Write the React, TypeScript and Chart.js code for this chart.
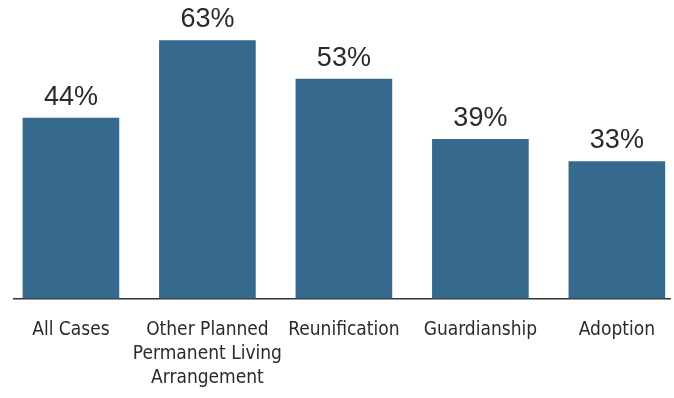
import React, { useEffect, useRef } from "react";
import { Chart, registerables } from "chart.js";

Chart.register(...registerables);

const categoryLines: string[][] = [
  ["All Cases"],
  ["Other Planned", "Permanent Living", "Arrangement"],
  ["Reunification"],
  ["Guardianship"],
  ["Adoption"],
];
const values: number[] = [44, 62.9, 53.5, 38.8, 33.4];
const valueLabels: string[] = ["44%", "63%", "53%", "39%", "33%"];

const BAR_COLOR = "#356a8e";
const TEXT_COLOR = "#2a2a2a";

const valueLabelPlugin = {
  id: "valueLabels",
  afterDatasetsDraw(chart: any) {
    const ctx = chart.ctx;
    const meta = chart.getDatasetMeta(0);
    ctx.save();
    ctx.font = '27px "Liberation Sans", Arial, sans-serif';
    ctx.fillStyle = TEXT_COLOR;
    ctx.textAlign = "center";
    ctx.textBaseline = "alphabetic";
    meta.data.forEach((bar: any, i: number) => {
      ctx.fillText(valueLabels[i], bar.x, bar.y - 13.5);
    });
    ctx.restore();
  },
};

export default function App() {
  const ref = useRef<HTMLCanvasElement | null>(null);
  useEffect(() => {
    if (!ref.current) return;
    const chart = new Chart(ref.current, {
      type: "bar",
      data: {
        datasets: [
          {
            data: values.map((v, i) => ({ x: i, y: v })),
            backgroundColor: BAR_COLOR,
            barThickness: 96,
          },
        ],
      },
      options: {
        animation: false,
        responsive: true,
        maintainAspectRatio: false,
        layout: { padding: { top: 11.5, left: 14, right: 0, bottom: 0 } },
        plugins: { legend: { display: false }, tooltip: { enabled: false } },
        scales: {
          x: {
            type: "linear",
            offset: false,
            min: -0.417,
            max: 4.393,
            grid: { display: false, drawTicks: false },
            border: { display: true, color: "#333333", width: 1.5 },
            afterBuildTicks: (scale: any) => {
              scale.ticks = categoryLines.map((_, i) => ({ value: i }));
            },
            afterFit: (scale: any) => {
              scale.height = 99.5;
            },
            ticks: {
              autoSkip: false,
              maxRotation: 0,
              padding: 19,
              color: TEXT_COLOR,
              font: {
                family: '"Liberation Sans Narrow", "DejaVu Sans Condensed", sans-serif',
                size: 19,
                lineHeight: 1.27,
              },
              callback: (value: any) => categoryLines[Math.round(Number(value))] || "",
            },
          },
          y: {
            display: false,
            min: 0,
            max: 70,
          },
        },
      },
      plugins: [valueLabelPlugin],
    });
    return () => chart.destroy();
  }, []);
  return (
    <div style={{ position: "fixed", left: 0, top: 0, width: 674, height: 398, background: "#fff" }}>
      <canvas ref={ref} />
    </div>
  );
}
